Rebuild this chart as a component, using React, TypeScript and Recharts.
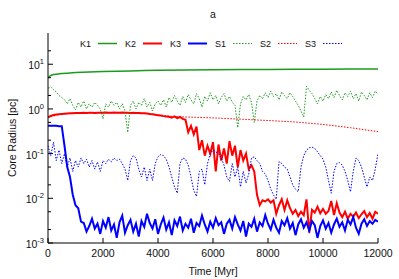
import { LineChart, Line, XAxis, YAxis, Legend } from "recharts";

// sample spacing of the noisy runs (Myr)
const STEP = 100;

// K1: smooth, so only a few samples
const K1_TIME = [0, 100, 200, 300, 500, 700, 1000, 1500, 2000, 2500, 3000, 3500, 4000, 5000, 6000, 7000, 8000, 9000, 10000, 11000, 12000];
const K1_RC = [5.0, 5.6, 5.9, 6.0, 6.2, 6.3, 6.5, 6.7, 6.9, 7.0, 7.1, 7.2, 7.3, 7.4, 7.5, 7.6, 7.6, 7.7, 7.7, 7.8, 7.8];

// S2 follows K2 early, then decays slowly
const S2_TIME = [0, 500, 1000, 2000, 3000, 3500, 4000, 4500, 5000, 6000, 7000, 8000, 9000, 10000, 11000, 12000];
const S2_RC = [0.65, 0.77, 0.81, 0.82, 0.81, 0.8, 0.74, 0.68, 0.66, 0.63, 0.59, 0.55, 0.51, 0.45, 0.38, 0.31];

// every 100 Myr, 0..12000
const K2_RC = [
  0.65, 0.7, 0.73, 0.75, 0.76, 0.77, 0.78, 0.79, 0.8, 0.8,
  0.81, 0.81, 0.81, 0.82, 0.81, 0.82, 0.82, 0.81, 0.82, 0.82,
  0.82, 0.83, 0.82, 0.82, 0.83, 0.82, 0.82, 0.83, 0.82, 0.82,
  0.81, 0.82, 0.81, 0.81, 0.8, 0.8, 0.79, 0.77, 0.76, 0.74,
  0.72, 0.71, 0.69, 0.68, 0.67, 0.64, 0.68, 0.62, 0.66, 0.6,
  0.57, 0.3, 0.42, 0.27, 0.4, 0.12, 0.2, 0.09, 0.15, 0.1,
  0.18, 0.04, 0.16, 0.07, 0.13, 0.06, 0.19, 0.09, 0.15, 0.05,
  0.12, 0.07, 0.1, 0.045, 0.055, 0.04, 0.012, 0.007, 0.009, 0.0085,
  0.0095, 0.008, 0.009, 0.0045, 0.007, 0.0095, 0.0055, 0.009, 0.006, 0.0045,
  0.0055, 0.004, 0.005, 0.0042, 0.0095, 0.0017, 0.0055, 0.0048, 0.0065, 0.0046,
  0.0058, 0.0045, 0.0052, 0.0087, 0.0042, 0.0078, 0.0048, 0.0038, 0.005, 0.0035,
  0.0045, 0.0039, 0.0048, 0.0036, 0.0044, 0.0052, 0.0038, 0.0047, 0.0035, 0.005,
  0.0045,
];

const K3_RC = [
  0.42, 0.42, 0.42, 0.42, 0.41, 0.41, 0.15, 0.05, 0.03, 0.012,
  0.007, 0.006, 0.003, 0.0028, 0.0018, 0.0024, 0.0035, 0.0021, 0.0027, 0.0016,
  0.0031, 0.0022, 0.0038, 0.0019, 0.0026, 0.0013, 0.0029, 0.0041, 0.0017, 0.0025,
  0.0033, 0.0018, 0.0027, 0.0014, 0.0031, 0.0023, 0.0045, 0.0028, 0.0021, 0.0034,
  0.0016, 0.0026, 0.0037, 0.002, 0.0029, 0.0015, 0.0032, 0.0024, 0.0039, 0.0019,
  0.0027, 0.0022, 0.0035, 0.0017, 0.0028, 0.0024, 0.0041, 0.0026, 0.0018, 0.003,
  0.0022, 0.0036, 0.0025, 0.0029, 0.0016, 0.0027, 0.0033, 0.0021, 0.0038, 0.0026,
  0.0019, 0.0031, 0.0014, 0.0027, 0.0023, 0.0035, 0.0018, 0.0029, 0.0024, 0.0042,
  0.0027, 0.002, 0.0033, 0.0022, 0.0017, 0.0031, 0.0025, 0.0036, 0.0021, 0.0028,
  0.0015, 0.0026, 0.0034, 0.0022, 0.0029, 0.0019, 0.0031, 0.0025, 0.0013, 0.0024,
  0.0032, 0.0021, 0.0028, 0.0017, 0.0026, 0.0035, 0.0023, 0.0029, 0.0019, 0.0033,
  0.0026, 0.0038, 0.0022, 0.0016, 0.0027, 0.0034, 0.0024, 0.0031, 0.0027, 0.0033,
  0.003,
];

const S1_RC = [
  2.9, 3.1, 2.7, 2.4, 2.0, 1.8, 1.6, 1.3, 1.7, 1.2,
  0.95, 1.4, 1.1, 1.5, 1.0, 1.3, 1.1, 1.4, 1.2, 1.0,
  0.6, 1.3, 1.1, 1.5, 1.2, 1.4, 1.0, 1.3, 0.9, 0.3,
  1.2, 1.5, 1.0, 1.4, 1.2, 1.7, 1.1, 1.4, 0.9, 1.3,
  1.5, 1.2, 1.6, 1.1, 1.8, 1.4, 2.0, 1.5, 1.2, 1.9,
  1.4, 2.1, 1.6, 1.3, 2.2, 1.7, 1.1, 1.9, 1.5, 2.3,
  1.6, 2.0, 1.3, 1.8, 2.2, 1.5, 1.9, 1.4, 1.2, 0.38,
  1.3, 1.9, 1.6, 2.1, 1.4, 0.5, 1.5, 2.0, 1.7, 2.3,
  1.8, 2.5, 1.9, 2.2, 1.6, 2.4, 2.0, 1.7, 2.3, 1.9,
  1.5, 1.2, 0.9, 0.66, 3.2, 2.6, 2.2, 1.7, 1.3, 1.9,
  1.5, 2.1, 1.7, 2.4, 1.8, 2.6, 2.0, 1.6, 2.3, 1.9,
  2.5, 1.7, 2.2, 1.5, 2.4, 2.0, 1.6, 2.3, 1.8, 2.5,
  2.1,
];

const S3_RC = [
  0.15, 0.09, 0.18, 0.07, 0.12, 0.06, 0.1, 0.05, 0.08, 0.04,
  0.07, 0.05, 0.08, 0.06, 0.075, 0.05, 0.07, 0.045, 0.065, 0.04,
  0.07, 0.06, 0.075, 0.065, 0.08, 0.07, 0.075, 0.06, 0.045, 0.025,
  0.07, 0.09, 0.08, 0.045, 0.03, 0.05, 0.025, 0.045, 0.025, 0.06,
  0.085, 0.095, 0.09, 0.075, 0.05, 0.03, 0.018, 0.013, 0.06, 0.08,
  0.075, 0.055, 0.03, 0.015, 0.011, 0.04, 0.045, 0.02, 0.06, 0.1,
  0.12, 0.11, 0.1, 0.08, 0.055, 0.03, 0.024, 0.06, 0.03, 0.05,
  0.018, 0.04, 0.022, 0.035, 0.08, 0.085, 0.07, 0.06, 0.04, 0.035,
  0.025, 0.016, 0.012, 0.0095, 0.066, 0.06, 0.05, 0.045, 0.03, 0.02,
  0.016, 0.014, 0.05, 0.09, 0.12, 0.135, 0.14, 0.13, 0.11, 0.09,
  0.075, 0.05, 0.025, 0.013, 0.04, 0.06, 0.063, 0.055, 0.04, 0.025,
  0.014, 0.04, 0.08, 0.07, 0.05, 0.03, 0.018, 0.03, 0.025, 0.045,
  0.1,
];

const X_TICKS = [0, 2000, 4000, 6000, 8000, 10000, 12000];
const Y_MAJOR = [0.001, 0.01, 0.1, 1, 10];
const Y_MINOR = [0.002, 0.005, 0.02, 0.05, 0.2, 0.5, 2, 5, 20];

const GREEN = "#1c9a1c";
const RED = "#ff0000";
const BLUE = "#0000ff";
const FONT = "'Liberation Sans', Arial, sans-serif";

const pairs = (times: number[], vals: number[]) => vals.map((v, i) => ({ t: times[i], v }));
const stepped = (vals: number[]) => vals.map((v, i) => ({ t: i * STEP, v }));

const series = [
  { name: "K1", data: pairs(K1_TIME, K1_RC), color: GREEN, width: 1.5, dash: undefined },
  { name: "K2", data: stepped(K2_RC), color: RED, width: 2, dash: undefined },
  { name: "K3", data: stepped(K3_RC), color: BLUE, width: 2, dash: undefined },
  { name: "S1", data: stepped(S1_RC), color: GREEN, width: 1, dash: "1.5 1.5" },
  { name: "S2", data: pairs(S2_TIME, S2_RC), color: RED, width: 1, dash: "1.5 1.5" },
  { name: "S3", data: stepped(S3_RC), color: BLUE, width: 1, dash: "1.5 1.5" },
];

const isMajor = (v: number) => Y_MAJOR.includes(v);

function LeftTick({ x, y, payload }: any) {
  const v = payload.value;
  const major = isMajor(v);
  return (
    <g>
      <line x1={x} y1={y} x2={x + (major ? 5 : 3)} y2={y} stroke="#000" />
      {major && (
        <text x={x - 4} y={y + 5} textAnchor="end" fontSize={10.5} fontFamily={FONT} fill="#111">
          <tspan>10</tspan>
          <tspan dy={-5} fontSize={7.5}>{Math.round(Math.log10(v))}</tspan>
        </text>
      )}
    </g>
  );
}

function RightTick({ x, y, payload }: any) {
  const major = isMajor(payload.value);
  return <line x1={x} y1={y} x2={x - (major ? 5 : 3)} y2={y} stroke="#000" />;
}

function BottomTick({ x, y, payload }: any) {
  return (
    <g>
      <line x1={x} y1={y} x2={x} y2={y - 5} stroke="#000" />
      <text x={x} y={y + 14} textAnchor="middle" fontSize={10.5} fontFamily={FONT} fill="#111">
        {payload.value}
      </text>
    </g>
  );
}

function TopTick({ x, y }: any) {
  return <line x1={x} y1={y} x2={x} y2={y + 5} stroke="#000" />;
}

function KeyBox() {
  return (
    <svg width={399} height={16} style={{ display: "block" }}>
      {series.map((s, i) => (
        <g key={s.name}>
          <text x={91 + 45 * i} y={12} textAnchor="end" fontSize={9} fontFamily={FONT} fill="#111">
            {s.name}
          </text>
          <line
            x1={98 + 45 * i}
            x2={117 + 45 * i}
            y1={8.5}
            y2={8.5}
            stroke={s.color}
            strokeWidth={s.width}
            strokeDasharray={s.dash}
          />
        </g>
      ))}
    </svg>
  );
}

export default function App() {
  return (
    <div style={{ position: "absolute", left: 0, top: 0, width: 399, height: 279, background: "#fff" }}>
      <LineChart width={399} height={279} margin={{ top: 33, right: 21, bottom: 0, left: 0 }}>
        <XAxis
          dataKey="t"
          type="number"
          domain={[0, 12000]}
          ticks={X_TICKS}
          interval={0}
          allowDataOverflow
          height={36}
          tickSize={0}
          tickMargin={0}
          tickLine={false}
          tick={BottomTick}
          axisLine={{ stroke: "#000" }}
        />
        <XAxis
          xAxisId="top"
          orientation="top"
          dataKey="t"
          type="number"
          domain={[0, 12000]}
          ticks={X_TICKS}
          interval={0}
          allowDataOverflow
          height={0}
          tickSize={0}
          tickMargin={0}
          tickLine={false}
          tick={TopTick}
          axisLine={{ stroke: "#000" }}
        />
        <YAxis
          scale="log"
          type="number"
          domain={[0.001, 50]}
          ticks={[...Y_MAJOR, ...Y_MINOR]}
          interval={0}
          allowDataOverflow
          width={48}
          tickSize={0}
          tickMargin={0}
          tickLine={false}
          tick={LeftTick}
          axisLine={{ stroke: "#000" }}
        />
        <YAxis
          yAxisId="right"
          orientation="right"
          scale="log"
          type="number"
          domain={[0.001, 50]}
          ticks={[...Y_MAJOR, ...Y_MINOR]}
          interval={0}
          allowDataOverflow
          width={0}
          tickSize={0}
          tickMargin={0}
          tickLine={false}
          tick={RightTick}
          axisLine={{ stroke: "#000" }}
        />
        <Legend
          layout="horizontal"
          verticalAlign="middle"
          align="center"
          wrapperStyle={{ top: 35, left: 0, width: 399, height: 16 }}
          content={() => <KeyBox />}
        />
        {series.map((s) => (
          <Line
            key={s.name}
            name={s.name}
            data={s.data}
            dataKey="v"
            type="linear"
            stroke={s.color}
            strokeWidth={s.width}
            strokeDasharray={s.dash}
            dot={false}
            isAnimationActive={false}
          />
        ))}
        <text x={213} y={18} textAnchor="middle" fontSize={10.5} fontFamily={FONT} fill="#111">
          a
        </text>
        <text x={213} y={275} textAnchor="middle" fontSize={10.5} fontFamily={FONT} fill="#111">
          Time [Myr]
        </text>
        <text
          x={16}
          y={138}
          textAnchor="middle"
          fontSize={10.5}
          fontFamily={FONT}
          fill="#111"
          transform="rotate(-90 16 138)"
        >
          Core Radius [pc]
        </text>
      </LineChart>
    </div>
  );
}
